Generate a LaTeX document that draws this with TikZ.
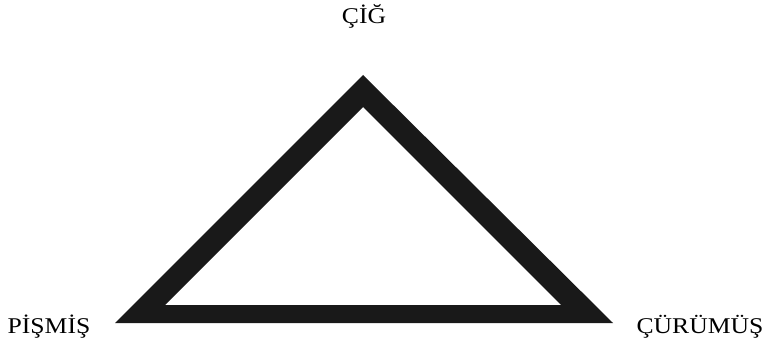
\documentclass[tikz,border=0pt]{standalone}
\usepackage{fontspec}
\setmainfont{Liberation Serif}[FakeStretch=1.14]
\usetikzlibrary{positioning}

\begin{document}
\begin{tikzpicture}[x=1pt,y=1pt,
    every node/.style={font=\fontsize{22.5}{27}\selectfont, inner sep=0pt},
    kenar/.style={fill=black!90, even odd rule}]
    \useasboundingbox (0,0) rectangle (769,346);
    % outer and inner corners of the frame
    \coordinate (tepe) at (363,271);
    \coordinate (sol) at (115,23);
    \coordinate (sag) at (613,23);
    \coordinate (itepe) at (363,239);
    \coordinate (isol) at (165,41);
    \coordinate (isag) at (561,41);
    \fill[kenar] (tepe) -- (sag) -- (sol) -- cycle
                 (itepe) -- (isag) -- (isol) -- cycle;
    \node[anchor=base] (cig) at (364,322) {ÇİĞ};
    \node[anchor=base] (pismis) at (49,13) {PİŞMİŞ};
    \node[anchor=base] (curumus) at (700,13) {ÇÜRÜMÜŞ};
  \end{tikzpicture}
\end{document}
